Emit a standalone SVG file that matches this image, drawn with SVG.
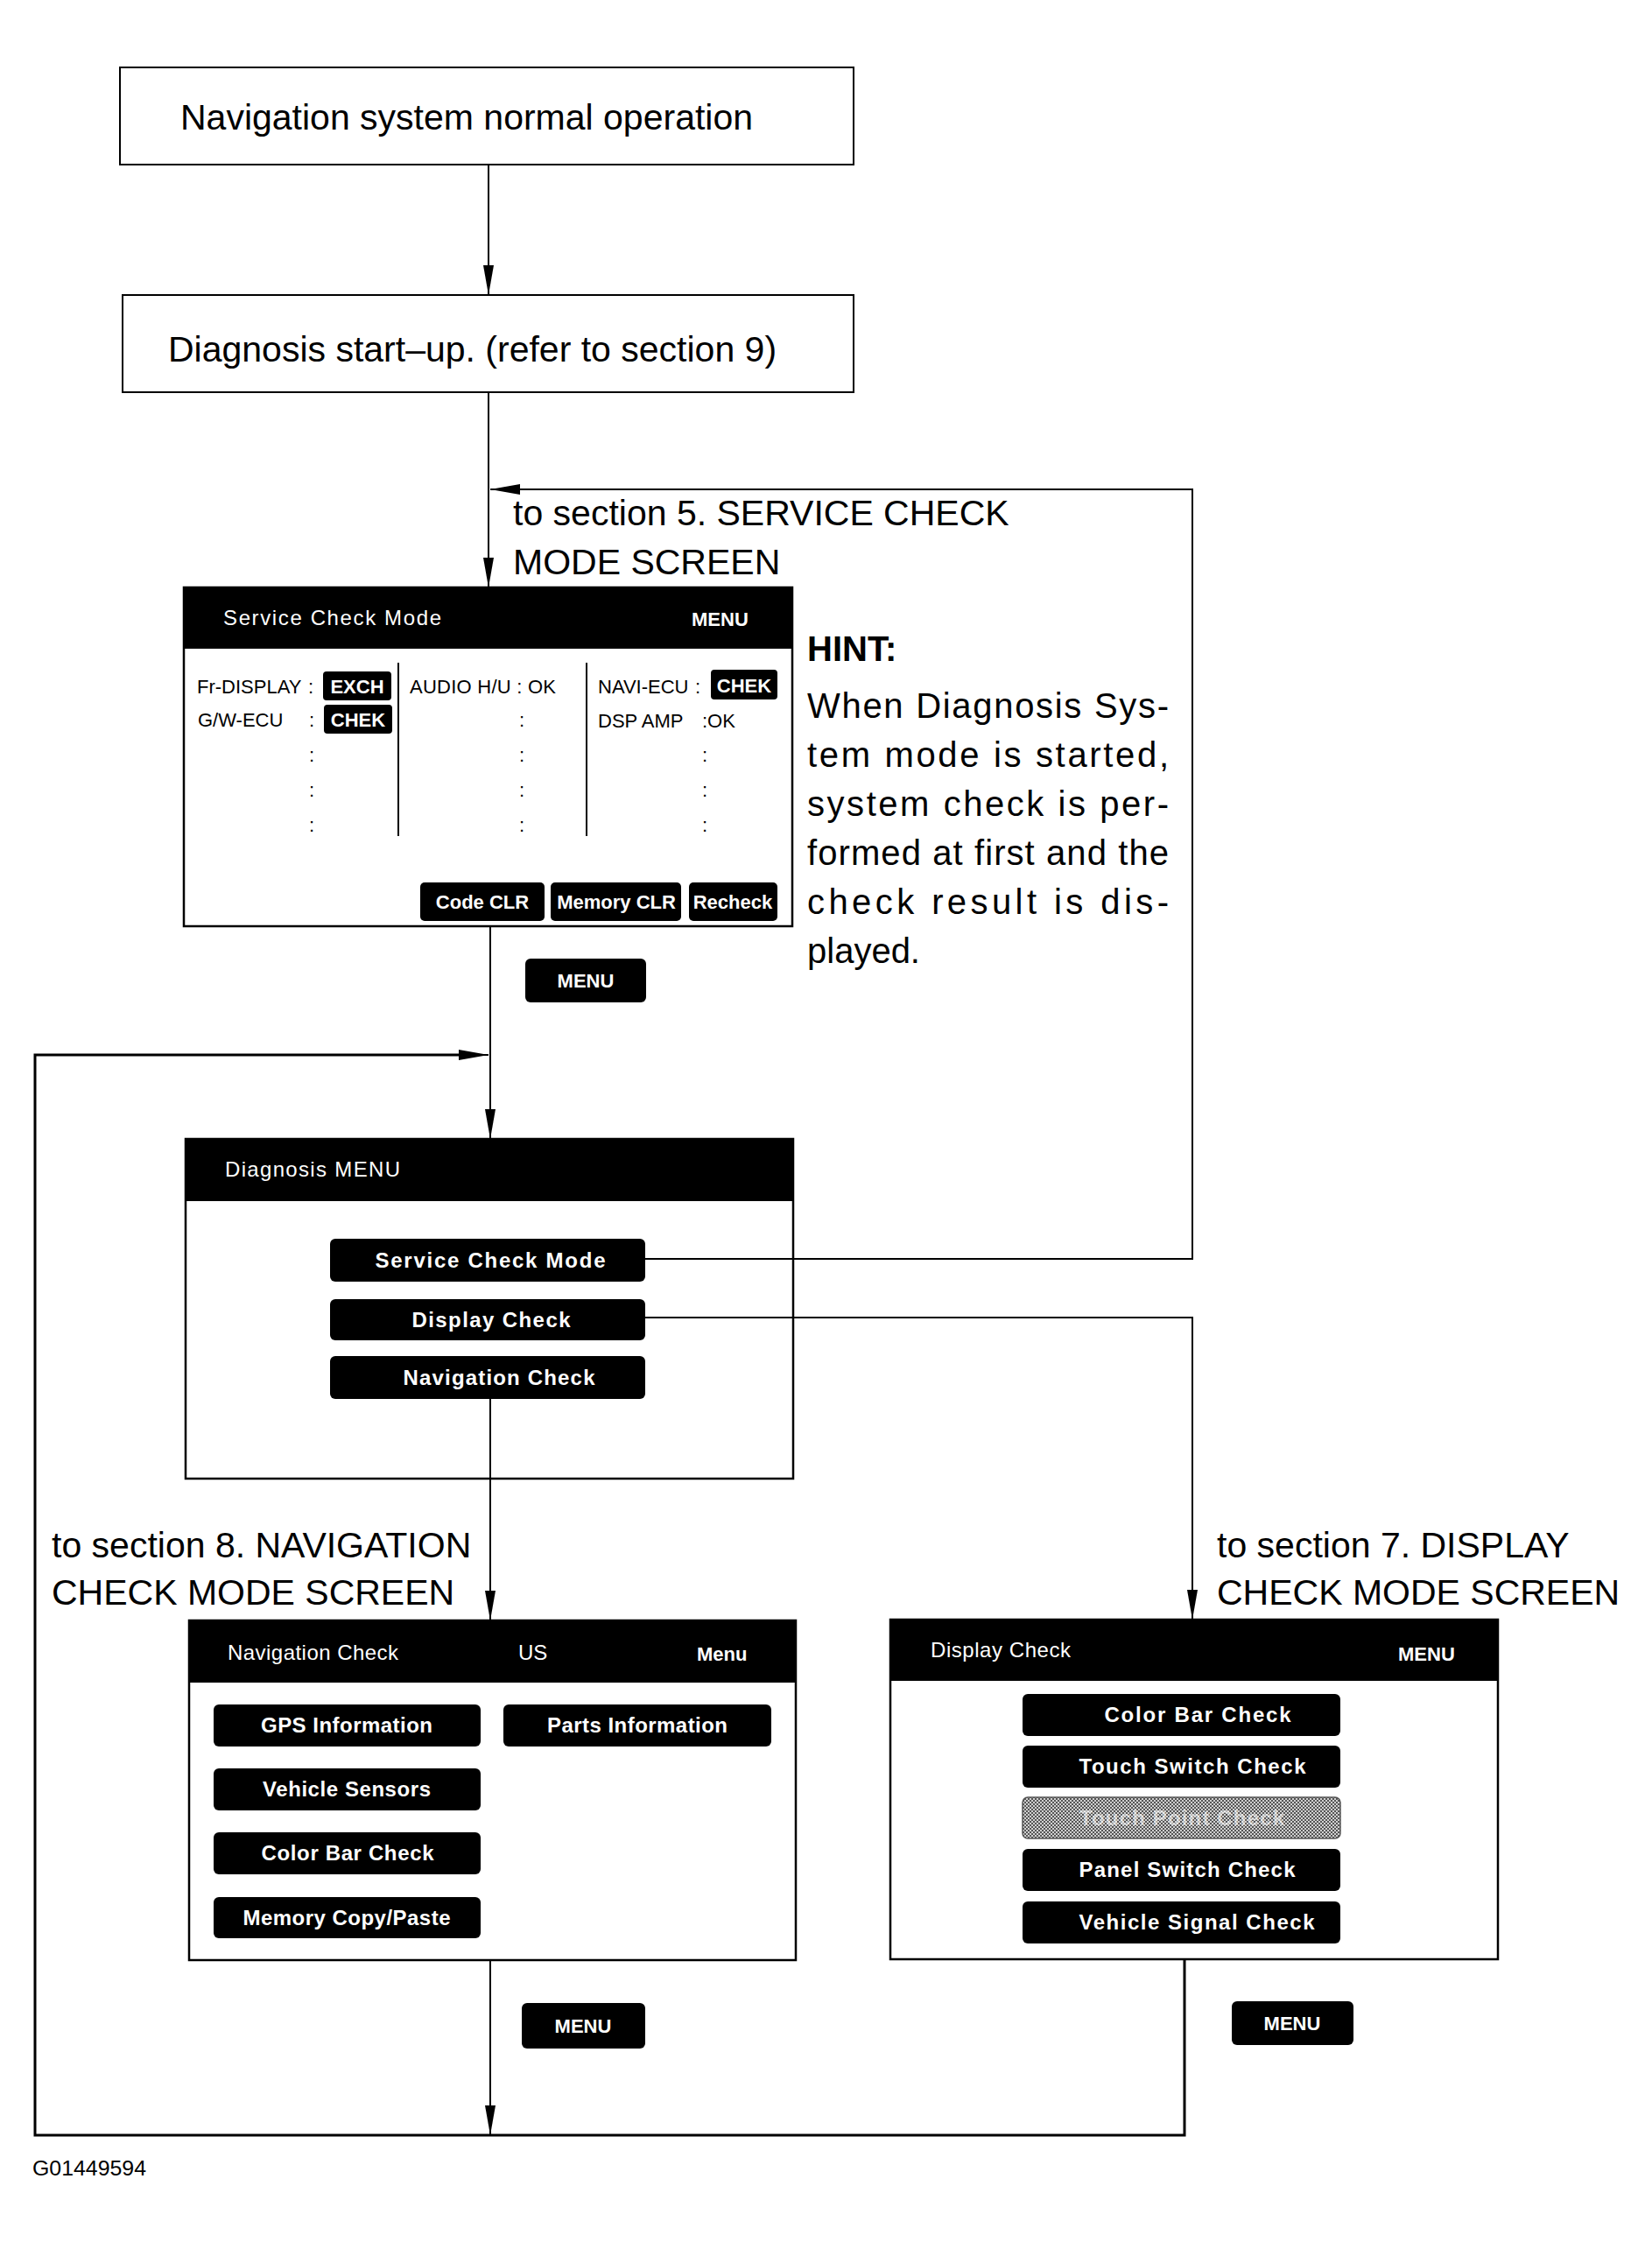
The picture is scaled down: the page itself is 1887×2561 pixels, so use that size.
<svg xmlns="http://www.w3.org/2000/svg" width="1887" height="2561" viewBox="0 0 1887 2561">
<style>
  text { font-family: "Liberation Sans", Arial, sans-serif; }
  .big { font-size: 41px; fill: #000; }
  .hint { font-size: 40px; fill: #000; }
  .box { fill: #fff; stroke: #000; stroke-width: 2; }
  .scr { fill: #fff; stroke: #000; stroke-width: 2.5; }
  .hdr { fill: #000; }
  .htxt { font-size: 24px; fill: #fff; }
  .hbold { font-size: 22px; font-weight: bold; fill: #fff; }
  .btn { fill: #000; }
  .btxt { font-size: 24px; font-weight: bold; fill: #fff; text-anchor: middle; }
  .stxt { font-size: 22px; fill: #000; }
  .sbtxt { font-size: 22px; font-weight: bold; fill: #fff; text-anchor: middle; }
  .div { stroke: #000; stroke-width: 2; }
  .conn { fill: none; stroke: #000; stroke-width: 2; }
  .thick { fill: none; stroke: #000; stroke-width: 3; }
</style>
<defs>
  <marker id="arr" markerUnits="userSpaceOnUse" viewBox="0 -7 36 14" refX="34" refY="0" markerWidth="36" markerHeight="14" orient="auto">
    <path d="M0,-6 L34,0 L0,6 z" fill="#000"/>
  </marker>
  <pattern id="hatch" width="4" height="4" patternUnits="userSpaceOnUse">
    <rect width="4" height="4" fill="#d0d0d0"/>
    <rect width="2" height="2" fill="#555"/>
    <rect x="2" y="2" width="2" height="2" fill="#555"/>
  </pattern>
</defs>
<rect width="1887" height="2561" fill="#fff"/>

<g id="node-normal-operation">
  <rect class="box" x="137" y="77" width="838" height="111"/>
  <text class="big" x="206" y="148">Navigation system normal operation</text>
</g>

<g id="node-diagnosis-startup">
  <rect class="box" x="140" y="337" width="835" height="111"/>
  <text class="big" x="192" y="413">Diagnosis start–up. (refer to section 9)</text>
</g>

<g id="label-section5">
  <text class="big" x="586" y="600">to section 5. SERVICE CHECK</text>
  <text class="big" x="586" y="656">MODE SCREEN</text>
</g>

<g id="node-service-check-screen">
  <rect class="scr" x="210" y="671" width="695" height="387"/>
  <rect class="hdr" x="210" y="671" width="695" height="70"/>
  <text class="htxt" x="255" y="714" textLength="249" lengthAdjust="spacing">Service  Check  Mode</text>
  <text class="hbold" x="790" y="715">MENU</text>

  <text class="stxt" x="225" y="792">Fr-DISPLAY</text>
  <text class="stxt" x="352" y="792">:</text>
  <rect class="btn" x="369" y="767" width="78" height="33" rx="4"/>
  <text class="sbtxt" x="408" y="792">EXCH</text>

  <text class="stxt" x="226" y="830">G/W-ECU</text>
  <text class="stxt" x="353" y="830">:</text>
  <rect class="btn" x="370" y="805" width="78" height="33" rx="4"/>
  <text class="sbtxt" x="409" y="830">CHEK</text>

  <text class="stxt" x="353" y="870">:</text>
  <text class="stxt" x="353" y="910">:</text>
  <text class="stxt" x="353" y="950">:</text>

  <line class="div" x1="455" y1="757" x2="455" y2="955"/>
  <text class="stxt" x="468" y="792" textLength="167" lengthAdjust="spacing">AUDIO H/U : OK</text>
  <text class="stxt" x="593" y="830">:</text>
  <text class="stxt" x="593" y="870">:</text>
  <text class="stxt" x="593" y="910">:</text>
  <text class="stxt" x="593" y="950">:</text>

  <line class="div" x1="670" y1="757" x2="670" y2="955"/>
  <text class="stxt" x="683" y="792">NAVI-ECU</text>
  <text class="stxt" x="794" y="792">:</text>
  <rect class="btn" x="812" y="765" width="76" height="34" rx="4"/>
  <text class="sbtxt" x="850" y="791">CHEK</text>
  <text class="stxt" x="683" y="831">DSP AMP</text>
  <text class="stxt" x="802" y="831">:OK</text>
  <text class="stxt" x="802" y="870">:</text>
  <text class="stxt" x="802" y="910">:</text>
  <text class="stxt" x="802" y="950">:</text>

  <rect class="btn" x="480" y="1008" width="142" height="44" rx="5"/>
  <text class="sbtxt" x="551" y="1038">Code CLR</text>
  <rect class="btn" x="629" y="1008" width="149" height="44" rx="5"/>
  <text class="sbtxt" x="704" y="1038">Memory CLR</text>
  <rect class="btn" x="787" y="1008" width="101" height="44" rx="5"/>
  <text class="sbtxt" x="837" y="1038">Recheck</text>
</g>

<g id="button-menu-1">
  <rect class="btn" x="600" y="1095" width="138" height="50" rx="6"/>
  <text class="sbtxt" x="669" y="1128">MENU</text>
</g>

<g id="hint">
  <text class="hint" x="922" y="755" font-weight="bold" font-size="38">HINT:</text>
  <text class="hint" x="922" y="820" textLength="413" lengthAdjust="spacing">When Diagnosis Sys-</text>
  <text class="hint" x="922" y="876" textLength="413" lengthAdjust="spacing">tem mode is started,</text>
  <text class="hint" x="922" y="932" textLength="413" lengthAdjust="spacing">system check is per-</text>
  <text class="hint" x="922" y="988" textLength="413" lengthAdjust="spacing">formed at first and the</text>
  <text class="hint" x="922" y="1044" textLength="413" lengthAdjust="spacing">check result is dis-</text>
  <text class="hint" x="922" y="1100">played.</text>
</g>

<g id="node-diagnosis-menu">
  <rect class="scr" x="212" y="1301" width="694" height="388"/>
  <rect class="hdr" x="212" y="1301" width="694" height="71"/>
  <text class="htxt" x="257" y="1344" textLength="200" lengthAdjust="spacing">Diagnosis MENU</text>
  <rect class="btn" x="377" y="1415" width="360" height="49" rx="6"/>
  <text class="btxt" x="560" y="1448" textLength="263" lengthAdjust="spacing">Service Check Mode</text>
  <rect class="btn" x="377" y="1484" width="360" height="47" rx="6"/>
  <text class="btxt" x="561" y="1516" textLength="181" lengthAdjust="spacing">Display Check</text>
  <rect class="btn" x="377" y="1549" width="360" height="49" rx="6"/>
  <text class="btxt" x="570" y="1582" textLength="219" lengthAdjust="spacing">Navigation Check</text>
</g>

<g id="label-section8">
  <text class="big" x="59" y="1779">to section 8. NAVIGATION</text>
  <text class="big" x="59" y="1833">CHECK MODE SCREEN</text>
</g>

<g id="label-section7">
  <text class="big" x="1390" y="1779">to section 7. DISPLAY</text>
  <text class="big" x="1390" y="1833">CHECK MODE SCREEN</text>
</g>

<g id="node-navigation-check-screen">
  <rect class="scr" x="216" y="1851" width="693" height="388"/>
  <rect class="hdr" x="216" y="1851" width="693" height="71"/>
  <text class="htxt" x="260" y="1896" textLength="195" lengthAdjust="spacing">Navigation Check</text>
  <text class="htxt" x="592" y="1896">US</text>
  <text class="hbold" x="796" y="1897" font-size="23">Menu</text>
  <rect class="btn" x="244" y="1947" width="305" height="48" rx="6"/>
  <text class="btxt" x="396" y="1979" textLength="196" lengthAdjust="spacing">GPS Information</text>
  <rect class="btn" x="575" y="1947" width="306" height="48" rx="6"/>
  <text class="btxt" x="728" y="1979" textLength="206" lengthAdjust="spacing">Parts Information</text>
  <rect class="btn" x="244" y="2020" width="305" height="48" rx="6"/>
  <text class="btxt" x="396" y="2052" textLength="192" lengthAdjust="spacing">Vehicle Sensors</text>
  <rect class="btn" x="244" y="2093" width="305" height="48" rx="6"/>
  <text class="btxt" x="397" y="2125" textLength="197" lengthAdjust="spacing">Color Bar Check</text>
  <rect class="btn" x="244" y="2167" width="305" height="47" rx="6"/>
  <text class="btxt" x="396" y="2199" textLength="237" lengthAdjust="spacing">Memory Copy/Paste</text>
</g>

<g id="node-display-check-screen">
  <rect class="scr" x="1017" y="1850" width="694" height="388"/>
  <rect class="hdr" x="1017" y="1850" width="694" height="70"/>
  <text class="htxt" x="1063" y="1893" textLength="160" lengthAdjust="spacing">Display Check</text>
  <text class="hbold" x="1597" y="1897">MENU</text>
  <rect class="btn" x="1168" y="1935" width="363" height="48" rx="6"/>
  <text class="btxt" x="1368" y="1967" textLength="213" lengthAdjust="spacing">Color Bar Check</text>
  <rect class="btn" x="1168" y="1994" width="363" height="48" rx="6"/>
  <text class="btxt" x="1362" y="2026" textLength="259" lengthAdjust="spacing">Touch Switch Check</text>
  <rect x="1168" y="2053" width="363" height="47" rx="6" fill="url(#hatch)" stroke="#555" stroke-width="1.5"/>
  <text class="btxt" x="1350" y="2085" textLength="234" lengthAdjust="spacing" fill-opacity="0.6">Touch Point Check</text>
  <rect class="btn" x="1168" y="2112" width="363" height="48" rx="6"/>
  <text class="btxt" x="1356" y="2144" textLength="247" lengthAdjust="spacing">Panel Switch Check</text>
  <rect class="btn" x="1168" y="2172" width="363" height="48" rx="6"/>
  <text class="btxt" x="1367" y="2204" textLength="269" lengthAdjust="spacing">Vehicle Signal Check</text>
</g>

<g id="button-menu-2">
  <rect class="btn" x="596" y="2288" width="141" height="52" rx="6"/>
  <text class="sbtxt" x="666" y="2322">MENU</text>
</g>

<g id="button-menu-3">
  <rect class="btn" x="1407" y="2286" width="139" height="50" rx="6"/>
  <text class="sbtxt" x="1476" y="2319">MENU</text>
</g>

<text x="37" y="2485" font-size="24" fill="#000" textLength="130" lengthAdjust="spacingAndGlyphs">G01449594</text>

<g id="connectors">
  <line class="conn" x1="558" y1="188" x2="558" y2="337" marker-end="url(#arr)"/>
  <line class="conn" x1="558" y1="448" x2="558" y2="671" marker-end="url(#arr)"/>
  <line class="conn" x1="560" y1="1058" x2="560" y2="1301" marker-end="url(#arr)"/>
  <polyline class="conn" points="737,1438 1362,1438 1362,559 560,559" marker-end="url(#arr)"/>
  <polyline class="conn" points="737,1505 1362,1505 1362,1850" marker-end="url(#arr)"/>
  <line class="conn" x1="560" y1="1598" x2="560" y2="1851" marker-end="url(#arr)"/>
  <line class="conn" x1="560" y1="2239" x2="560" y2="2439" marker-end="url(#arr)"/>
  <polyline class="thick" points="1353,2238 1353,2439 40,2439 40,1205 540,1205"/>
  <line class="conn" x1="530" y1="1205" x2="558" y2="1205" marker-end="url(#arr)"/>
</g>
</svg>
